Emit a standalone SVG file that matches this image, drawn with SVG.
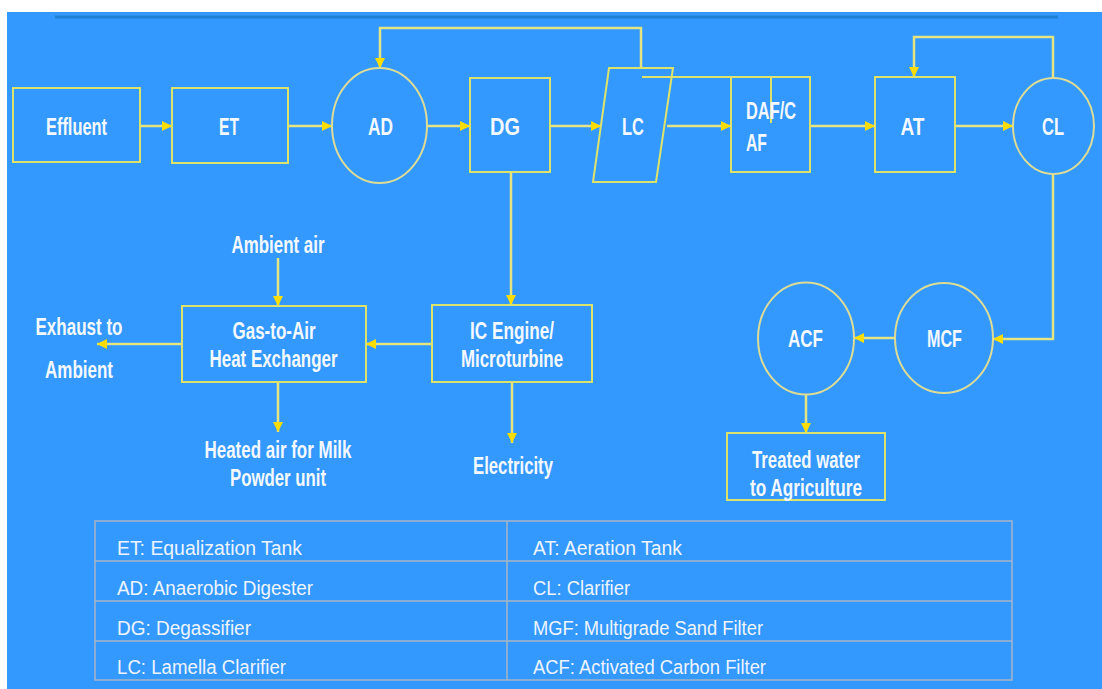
<svg xmlns="http://www.w3.org/2000/svg" width="1102" height="689" viewBox="0 0 1102 689">
<defs>
<style>
.bg{fill:#3399ff}
.box{fill:none;stroke:#dde36a;stroke-width:2}
.ell{fill:none;stroke:#dcdc96;stroke-width:2}
.ln{fill:none;stroke:#e4e480;stroke-width:2.5}
.lbl{font-family:"Liberation Sans Narrow","Liberation Sans",Arial,sans-serif;font-weight:bold;font-size:23px;fill:#f4f8ff;text-anchor:middle}
.lg{font-family:"Liberation Sans Narrow","Liberation Sans",Arial,sans-serif;font-size:20px;fill:#eef4ff}
.tb{fill:none;stroke:#a9b4c8;stroke-width:1.5}
</style>
<marker id="ah" viewBox="0 0 10 10" refX="10" refY="5" markerWidth="10" markerHeight="10" markerUnits="userSpaceOnUse" orient="auto">
<path d="M0,0 L10,5 L0,10 z" fill="#ffdd00"/>
</marker>
</defs>
<rect x="0" y="0" width="1102" height="689" fill="#ffffff"/>
<rect class="bg" x="7" y="12" width="1095" height="677"/>
<line x1="55" y1="17" x2="1058" y2="17" stroke="#1f80d4" stroke-width="3"/>

<g id="connectors">
<path class="ln" d="M140,126 H172" marker-end="url(#ah)"/>
<path class="ln" d="M288,126 H332" marker-end="url(#ah)"/>
<path class="ln" d="M427,126 H470" marker-end="url(#ah)"/>
<path class="ln" d="M550,126 H601" marker-end="url(#ah)"/>
<path class="ln" d="M667,126 H731" marker-end="url(#ah)"/>
<path class="ln" d="M810,126 H875" marker-end="url(#ah)"/>
<path class="ln" d="M955,126 H1013" marker-end="url(#ah)"/>
<path class="ln" d="M641,68 V28 H380 V68" stroke="#d6d6b0" marker-end="url(#ah)"/>
<path class="ln" d="M1053,78 V37 H914 V77" marker-end="url(#ah)"/>
<path class="ln" d="M1053,174 V339 H993" marker-end="url(#ah)"/>
<path class="ln" d="M895,338 H854" marker-end="url(#ah)"/>
<path class="ln" d="M806,394 V433" marker-end="url(#ah)"/>
<path class="ln" d="M511,172 V305" marker-end="url(#ah)"/>
<path class="ln" d="M432,344 H366" marker-end="url(#ah)"/>
<path class="ln" d="M182,344 H97" marker-end="url(#ah)"/>
<path class="ln" d="M278,258 V306" marker-end="url(#ah)"/>
<path class="ln" d="M278,382 V432" marker-end="url(#ah)"/>
<path class="ln" d="M512,382 V443" marker-end="url(#ah)"/>
<path class="box" d="M642,77 H731"/>
<path class="box" d="M771,77 V123"/>
</g>

<g id="effluent"><rect class="box" x="13" y="88" width="127" height="74"/><text class="lbl" x="76.5" y="135" textLength="61" lengthAdjust="spacingAndGlyphs">Effluent</text></g>
<g id="et"><rect class="box" x="172" y="88" width="116" height="75"/><text class="lbl" x="229" y="135" textLength="20" lengthAdjust="spacingAndGlyphs">ET</text></g>
<g id="ad"><ellipse class="ell" cx="379.5" cy="125.5" rx="47.5" ry="57.5"/><text class="lbl" x="380.5" y="135" textLength="25" lengthAdjust="spacingAndGlyphs">AD</text></g>
<g id="dg"><rect class="box" x="470" y="78" width="80" height="94"/><text class="lbl" x="505" y="135" textLength="30" lengthAdjust="spacingAndGlyphs">DG</text></g>
<g id="lc"><polygon class="box" points="609,68 673,68 656,182 593,182"/><text class="lbl" x="633" y="135" textLength="22" lengthAdjust="spacingAndGlyphs">LC</text></g>
<g id="dafcaf"><rect class="box" x="731" y="77" width="79" height="95"/><text class="lbl" x="746" y="119" style="text-anchor:start" textLength="50" lengthAdjust="spacingAndGlyphs">DAF/C</text><text class="lbl" x="746" y="151" style="text-anchor:start" textLength="21" lengthAdjust="spacingAndGlyphs">AF</text></g>
<g id="at"><rect class="box" x="875" y="77" width="80" height="95"/><text class="lbl" x="912.5" y="135" textLength="24" lengthAdjust="spacingAndGlyphs">AT</text></g>
<g id="cl"><ellipse class="ell" cx="1053.5" cy="126" rx="40.5" ry="48"/><text class="lbl" x="1053" y="135" textLength="22" lengthAdjust="spacingAndGlyphs">CL</text></g>
<g id="mcf"><ellipse class="ell" cx="944" cy="338" rx="49" ry="55"/><text class="lbl" x="944.5" y="347" textLength="35" lengthAdjust="spacingAndGlyphs">MCF</text></g>
<g id="acf"><ellipse class="ell" cx="806" cy="338.5" rx="48" ry="56"/><text class="lbl" x="805.5" y="347" textLength="35" lengthAdjust="spacingAndGlyphs">ACF</text></g>
<g id="treated"><rect class="box" x="727" y="433" width="158" height="67"/><text class="lbl" x="806" y="468" textLength="108" lengthAdjust="spacingAndGlyphs">Treated water</text><text class="lbl" x="806" y="496" textLength="112" lengthAdjust="spacingAndGlyphs">to Agriculture</text></g>
<g id="icengine"><rect class="box" x="432" y="305" width="160" height="77"/><text class="lbl" x="512" y="339" textLength="84" lengthAdjust="spacingAndGlyphs">IC Engine/</text><text class="lbl" x="512" y="367" textLength="102" lengthAdjust="spacingAndGlyphs">Microturbine</text></g>
<g id="gasair"><rect class="box" x="182" y="306" width="184" height="76"/><text class="lbl" x="274" y="339" textLength="83" lengthAdjust="spacingAndGlyphs">Gas-to-Air</text><text class="lbl" x="273.5" y="367" textLength="128" lengthAdjust="spacingAndGlyphs">Heat Exchanger</text></g>
<g id="ambientair"><text class="lbl" x="278" y="253" textLength="93" lengthAdjust="spacingAndGlyphs">Ambient air</text></g>
<g id="exhaust"><text class="lbl" x="79" y="335" textLength="87" lengthAdjust="spacingAndGlyphs">Exhaust to</text><text class="lbl" x="79" y="378" textLength="68" lengthAdjust="spacingAndGlyphs">Ambient</text></g>
<g id="heatedair"><text class="lbl" x="278" y="458" textLength="147" lengthAdjust="spacingAndGlyphs">Heated air for Milk</text><text class="lbl" x="278" y="486" textLength="96" lengthAdjust="spacingAndGlyphs">Powder unit</text></g>
<g id="electricity"><text class="lbl" x="513" y="474" textLength="80" lengthAdjust="spacingAndGlyphs">Electricity</text></g>

<g id="legend">
<rect class="tb" x="95" y="521" width="917" height="159"/>
<line class="tb" x1="95" y1="561" x2="1012" y2="561"/>
<line class="tb" x1="95" y1="601" x2="1012" y2="601"/>
<line class="tb" x1="95" y1="641" x2="1012" y2="641"/>
<line class="tb" x1="507" y1="521" x2="507" y2="680"/>
<text class="lg" x="117" y="555" textLength="185" lengthAdjust="spacingAndGlyphs">ET: Equalization Tank</text>
<text class="lg" x="533" y="555" textLength="149" lengthAdjust="spacingAndGlyphs">AT: Aeration Tank</text>
<text class="lg" x="117" y="595" textLength="196" lengthAdjust="spacingAndGlyphs">AD: Anaerobic Digester</text>
<text class="lg" x="533" y="595" textLength="97" lengthAdjust="spacingAndGlyphs">CL: Clarifier</text>
<text class="lg" x="117" y="635" textLength="134" lengthAdjust="spacingAndGlyphs">DG: Degassifier</text>
<text class="lg" x="533" y="635" textLength="230" lengthAdjust="spacingAndGlyphs">MGF: Multigrade Sand Filter</text>
<text class="lg" x="117" y="674" textLength="169" lengthAdjust="spacingAndGlyphs">LC: Lamella Clarifier</text>
<text class="lg" x="533" y="674" textLength="233" lengthAdjust="spacingAndGlyphs">ACF: Activated Carbon Filter</text>
</g>
</svg>
